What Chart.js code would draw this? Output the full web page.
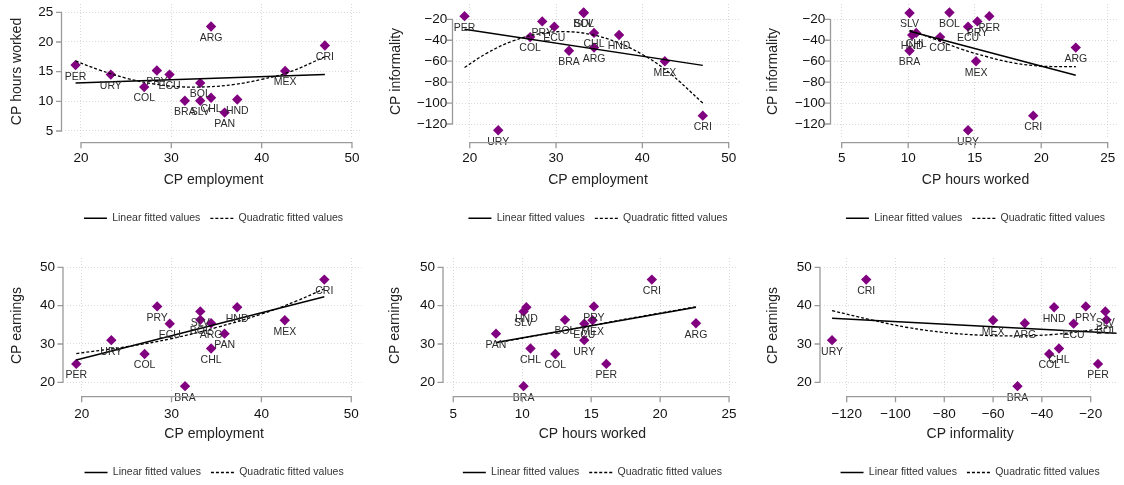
<!DOCTYPE html>
<html>
<head>
<meta charset="utf-8">
<script src="https://cdn.jsdelivr.net/npm/chart.js@4.4.1/dist/chart.umd.min.js"></script>
<style>
body { margin: 0; background: #fff; }
#wrap { position: relative; width: 1124px; height: 485px; overflow: hidden; background: #fff; }
canvas { position: absolute; }
</style>
</head>
<body>
<div id="wrap">
<canvas id="c1" width="375" height="250" style="left:0px;top:0px"></canvas>
<canvas id="c2" width="375" height="250" style="left:375px;top:0px"></canvas>
<canvas id="c3" width="374" height="250" style="left:750px;top:0px"></canvas>
<canvas id="c4" width="375" height="250" style="left:0px;top:250px"></canvas>
<canvas id="c5" width="375" height="250" style="left:375px;top:250px"></canvas>
<canvas id="c6" width="374" height="250" style="left:750px;top:250px"></canvas>
</div>
<script>
// country values (PAN has no informality value)
const countries   = ["PER", "URY", "COL", "PRY", "ECU", "BRA", "SLV", "BOL", "CHL", "ARG", "PAN", "HND", "MEX", "CRI"];
const employment  = [19.4, 23.3, 27.0, 28.4, 29.8, 31.5, 33.2, 33.2, 34.4, 34.4, 35.9, 37.3, 42.6, 47.0];
const hoursWorked = [16.1, 14.5, 12.4, 15.2, 14.5, 10.1, 10.1, 13.1, 10.6, 22.6, 8.1, 10.3, 15.1, 19.4];
const informality = [-17, -126, -37, -22, -27, -50, -14, -13.5, -33, -47, null, -35, -60, -112];
const earnings    = [24.8, 31.0, 27.4, 39.8, 35.3, 19.0, 38.5, 36.3, 28.8, 35.4, 32.7, 39.6, 36.2, 46.8];

// tick labels
const ticksEmployment  = [20, 30, 40, 50];
const ticksHours       = [5, 10, 15, 20, 25];
const ticksInformality = [-120, -100, -80, -60, -40, -20];
const ticksEarnings    = [20, 30, 40, 50];

// fitted values
const lin1X = [19.4, 47.0];
const lin1Y = [13.1, 14.5];
const quad1X = [19.4, 22, 25, 28, 31, 34, 37, 40, 43, 47];
const quad1Y = [16.8, 15.3, 13.9, 12.95, 12.45, 12.45, 12.85, 13.7, 14.9, 17.5];

const lin2X = [19.4, 47.0];
const lin2Y = [-29.5, -64];
const quad2X = [19.4, 22, 25, 28, 31, 34, 37, 40, 43, 47];
const quad2Y = [-66, -52.3, -40.7, -34, -31.8, -34.4, -41.7, -53.6, -70.3, -100];

const lin3X = [10.1, 22.6];
const lin3Y = [-31.5, -73.5];
const quad3X = [10.1, 12, 14, 16, 18, 20, 22.6];
const quad3Y = [-30.5, -39, -48.5, -56, -61.8, -64.7, -65.3];

const lin4X = [19.4, 47.0];
const lin4Y = [25.8, 42.3];
const quad4X = [19.4, 25, 30, 35, 40, 44, 47];
const quad4Y = [27.5, 29.3, 31.4, 34.3, 37.8, 41.3, 44.4];

const lin5X = [8.1, 22.6];
const lin5Y = [30.4, 39.6];
const quad5X = [8.1, 12, 15, 18, 22.6];
const quad5Y = [30.3, 32.8, 34.8, 36.8, 39.7];

const lin6X = [-126, -9.4];
const lin6Y = [36.7, 32.8];
const quad6X = [-126, -110, -95, -80, -65, -50, -35, -20, -11];
const quad6Y = [38.7, 36.3, 34.3, 33.0, 32.3, 32.1, 32.5, 33.6, 34.5];

Chart.defaults.font.family = "'Liberation Sans', Arial, Helvetica, sans-serif";

const rows = [
    { xh: 64.05, pb: 16.45, xTickPad: 10.7, xTitlePad: 14.3 },
    { xh: 64.25, pb: 12.25, xTickPad: 12.7, xTitlePad: 14.3 },
];

const panels = [
    { id: "c1", row: 0, x: employment, y: hoursWorked, xTitle: "CP employment", yTitle: "CP hours worked",
      xTicks: ticksEmployment, yTicks: ticksHours, linX: lin1X, linY: lin1Y, quadX: quad1X, quadY: quad1Y,
      L: 65, R: 362, T: 4, xr: [18.23, 51.11], yr: [3.65, 26.4], yTitlePad: 8.3, yTickPad: 11.7 },
    { id: "c2", row: 0, x: employment, y: informality, xTitle: "CP employment", yTitle: "CP informality",
      xTicks: ticksEmployment, yTicks: ticksInformality, linX: lin2X, linY: lin2Y, quadX: quad2X, quadY: quad2Y,
      L: 81, R: 365, T: 4, xr: [18.41, 51.31], yr: [-134.3, -5.39], yTitlePad: 12.3, yTickPad: 8.7 },
    { id: "c3", row: 0, x: hoursWorked, y: informality, xTitle: "CP hours worked", yTitle: "CP informality",
      xTicks: ticksHours, yTicks: ticksInformality, linX: lin3X, linY: lin3Y, quadX: quad3X, quadY: quad3Y,
      L: 84, R: 367, T: 4, xr: [4.42, 25.7], yr: [-134.3, -5.39], yTitlePad: 14.3, yTickPad: 8.7 },
    { id: "c4", row: 1, x: employment, y: earnings, xTitle: "CP employment", yTitle: "CP earnings",
      xTicks: ticksEmployment, yTicks: ticksEarnings, linX: lin4X, linY: lin4Y, quadX: quad4X, quadY: quad4Y,
      L: 66.5, R: 361.7, T: 8, xr: [18.31, 51.16], yr: [17.21, 52.43], yTitlePad: 8.3, yTickPad: 11.5 },
    { id: "c5", row: 1, x: hoursWorked, y: earnings, xTitle: "CP hours worked", yTitle: "CP earnings",
      xTicks: ticksHours, yTicks: ticksEarnings, linX: lin5X, linY: lin5Y, quadX: quad5X, quadY: quad5Y,
      L: 71.5, R: 363.3, T: 8, xr: [4.51, 25.67], yr: [17.21, 52.43], yTitlePad: 11.6, yTickPad: 11.5 },
    { id: "c6", row: 1, x: informality, y: earnings, xTitle: "CP informality", yTitle: "CP earnings",
      xTicks: ticksInformality, yTicks: ticksEarnings, linX: lin6X, linY: lin6Y, quadX: quad6X, quadY: quad6Y,
      L: 73.5, R: 366.7, T: 8, xr: [-129.5, -9.34], yr: [17.21, 52.43], yTitlePad: 14.9, yTickPad: 11.8 },
];

const fmt = (v) => String(v).replace("-", "\u2212");

// Stata style axis lines, set off from the plot region
const stataAxes = {
    id: "stataAxes",
    afterDraw(chart) {
        const { ctx, chartArea, scales } = chart;
        const xs = scales.x.ticks.map((t) => scales.x.getPixelForValue(t.value));
        const ys = scales.y.ticks.map((t) => scales.y.getPixelForValue(t.value));
        const ax = chartArea.left - 3.5;
        const ay = chartArea.bottom + 3.7;
        ctx.save();
        ctx.strokeStyle = "#9a9a9a";
        ctx.lineWidth = 1.3;
        ctx.beginPath();
        ctx.moveTo(ax, Math.min(...ys) - 0.65);
        ctx.lineTo(ax, Math.max(...ys) + 0.65);
        ys.forEach((p) => { ctx.moveTo(ax, p); ctx.lineTo(ax - 5.5, p); });
        ctx.moveTo(Math.min(...xs) - 0.65, ay);
        ctx.lineTo(Math.max(...xs) + 0.65, ay);
        xs.forEach((p) => { ctx.moveTo(p, ay); ctx.lineTo(p, ay + 5.5); });
        ctx.stroke();
        ctx.restore();
    },
};

// country names under the markers
const pointLabels = {
    id: "pointLabels",
    afterDatasetsDraw(chart) {
        const { ctx } = chart;
        const ds = chart.data.datasets[2];
        const meta = chart.getDatasetMeta(2);
        ctx.save();
        ctx.font = "10.5px 'Liberation Sans', Arial, sans-serif";
        ctx.fillStyle = "#2b2b2b";
        ctx.textAlign = "center";
        ctx.textBaseline = "middle";
        meta.data.forEach((pt, i) => {
            const d = ds.data[i];
            if (d.x == null || d.y == null) return;
            ctx.fillText(countries[i], pt.x, pt.y + 11.5);
        });
        ctx.restore();
    },
};

function pairs(xs, ys) {
    return xs.map((x, i) => ({ x: x, y: ys[i] }));
}

function makeChart(p) {
    const rp = rows[p.row];
    const canvas = document.getElementById(p.id);
    const W = canvas.width;
    new Chart(canvas, {
        type: "scatter",
        data: {
            datasets: [
                {
                    label: "Linear fitted values",
                    data: pairs(p.linX, p.linY),
                    showLine: true,
                    borderColor: "#000",
                    backgroundColor: "transparent",
                    borderWidth: 1.5,
                    pointRadius: 0,
                    tension: 0,
                },
                {
                    label: "Quadratic fitted values",
                    data: pairs(p.quadX, p.quadY),
                    showLine: true,
                    borderColor: "#000",
                    backgroundColor: "transparent",
                    borderWidth: 1.3,
                    borderDash: [3, 2],
                    pointRadius: 0,
                    tension: 0.4,
                },
                {
                    label: "countries",
                    data: pairs(p.x, p.y),
                    pointStyle: "rectRot",
                    pointRadius: 5.2,
                    pointBackgroundColor: "#800080",
                    pointBorderWidth: 0,
                },
            ],
        },
        options: {
            responsive: false,
            animation: false,
            events: [],
            layout: {
                autoPadding: false,
                padding: { left: 0, right: W - p.R, top: p.T, bottom: rp.pb },
            },
            plugins: {
                tooltip: { enabled: false },
                legend: {
                    position: "bottom",
                    fullSize: false,
                    align: "center",
                    labels: {
                        usePointStyle: true,
                        pointStyle: "line",
                        pointStyleWidth: 23,
                        padding: 10,
                        color: "#333",
                        font: { size: 10.5 },
                        generateLabels: (chart) =>
                            chart.data.datasets.slice(0, 2).map((ds, i) => ({
                                text: ds.label,
                                fillStyle: "transparent",
                                strokeStyle: "#000",
                                lineWidth: ds.borderWidth,
                                lineDash: ds.borderDash || [],
                                pointStyle: "line",
                                fontColor: "#333",
                                hidden: false,
                                datasetIndex: i,
                            })),
                    },
                },
            },
            scales: {
                x: {
                    type: "linear",
                    min: p.xr[0],
                    max: p.xr[1],
                    afterBuildTicks: (s) => { s.ticks = p.xTicks.map((v) => ({ value: v })); },
                    afterFit: (s) => {
                        s.height = rp.xh;
                        s.paddingLeft = s.paddingRight = s.paddingTop = s.paddingBottom = 0;
                    },
                    grid: { color: "#d0d0d0", lineWidth: 0.8, drawTicks: false },
                    border: { display: false, dash: [1, 2] },
                    ticks: {
                        padding: rp.xTickPad,
                        autoSkip: false,
                        maxRotation: 0,
                        color: "#111",
                        font: { size: 13.5 },
                        callback: fmt,
                    },
                    title: {
                        display: true,
                        text: p.xTitle,
                        color: "#222",
                        font: { size: 14 },
                        padding: { top: 0, bottom: rp.xTitlePad },
                    },
                },
                y: {
                    type: "linear",
                    min: p.yr[0],
                    max: p.yr[1],
                    afterBuildTicks: (s) => { s.ticks = p.yTicks.map((v) => ({ value: v })); },
                    afterFit: (s) => {
                        s.width = p.L;
                        s.paddingLeft = s.paddingRight = s.paddingTop = s.paddingBottom = 0;
                    },
                    grid: { color: "#d0d0d0", lineWidth: 0.8, drawTicks: false },
                    border: { display: false, dash: [1, 2] },
                    ticks: {
                        padding: p.yTickPad,
                        autoSkip: false,
                        color: "#111",
                        font: { size: 13.5 },
                        callback: fmt,
                    },
                    title: {
                        display: true,
                        text: p.yTitle,
                        color: "#222",
                        font: { size: 14 },
                        padding: { top: p.yTitlePad, bottom: 0 },
                    },
                },
            },
        },
        plugins: [stataAxes, pointLabels],
    });
}

panels.forEach(makeChart);
</script>
</body>
</html>
